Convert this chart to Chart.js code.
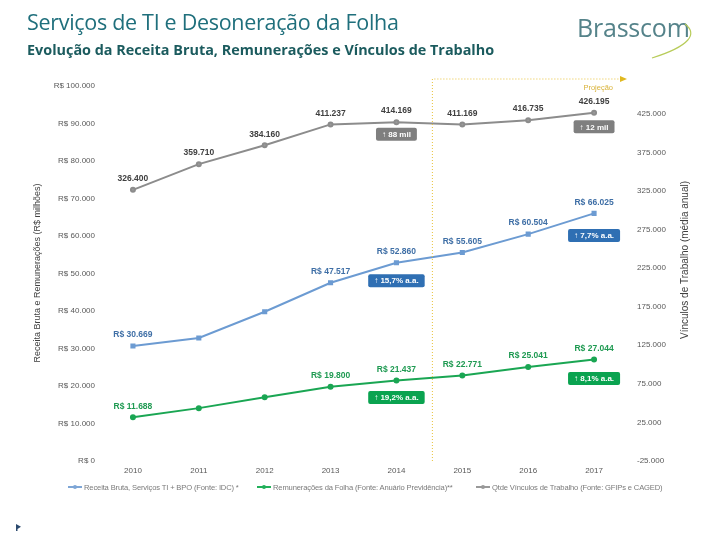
<!DOCTYPE html>
<html><head><meta charset="utf-8">
<script src="https://cdn.jsdelivr.net/npm/chart.js@4"></script>
<style>
body{margin:0;width:720px;height:540px;overflow:hidden;background:#fff;position:relative;font-family:"Open Sans",sans-serif}
#wrap{position:absolute;left:0;top:0;width:720px;height:540px}
.title{position:absolute;left:27px;top:7px;font-size:21.5px;color:#1f6f7c;letter-spacing:-0.3px;white-space:nowrap}
.sub{position:absolute;left:27px;top:40px;font-size:14.4px;font-weight:bold;color:#1b5b5e;letter-spacing:0px;white-space:nowrap}
.logo{position:absolute;left:577px;top:10px;font-size:25px;color:#55838a;letter-spacing:-0.2px;white-space:nowrap}
.leg{position:absolute;top:483px;font-family:"Liberation Sans",Arial,sans-serif;font-size:7.6px;letter-spacing:-0.15px;color:#7a7a7a;white-space:nowrap}
.mk{display:inline-block;width:14px;height:2px;vertical-align:middle;margin-right:2px;position:relative;top:-1px}
.mk i{position:absolute;left:5px;top:-1.5px;width:4px;height:4px;border-radius:2px;background:inherit}
.flag{position:absolute;left:16px;top:524px;width:5px;height:7px;background:#2c4a6e;clip-path:polygon(0 0,100% 40%,30% 70%,30% 100%,0 100%)}
</style></head>
<body>
<div id="wrap"><canvas id="c" width="720" height="540"></canvas></div>
<div class="title">Serviços de TI e Desoneração da Folha</div>
<div class="sub">Evolução da Receita Bruta, Remunerações e Vínculos de Trabalho</div>
<div class="logo">Brasscom</div>
<svg style="position:absolute;left:640px;top:22px" width="60" height="40"><path d="M45 2 C58 12 50 24 12 36" stroke="#b8cc5a" stroke-width="1.2" fill="none"/></svg>
<div class="leg" style="left:68px"><span class="mk" style="background:#7ea6d6"><i></i></span>Receita Bruta, Serviços TI + BPO (Fonte: IDC) *</div>
<div class="leg" style="left:257px"><span class="mk" style="background:#22b05a"><i></i></span>Remunerações da Folha (Fonte: Anuário Previdência)**</div>
<div class="leg" style="left:476px"><span class="mk" style="background:#999"><i></i></span>Qtde Vínculos de Trabalho (Fonte: GFIPs e CAGED)</div>
<div class="flag"></div>
<script>
const years = ["2010","2011","2012","2013","2014","2015","2016","2017"];
const receita = [30669, 32800, 39800, 47517, 52860, 55605, 60504, 66025];
const remuneracoes = [11688, 14100, 17000, 19800, 21437, 22771, 25041, 27044];
const vinculos = [326400, 359710, 384160, 411237, 414169, 411169, 416735, 426195];
const receitaLabels = ["R$ 30.669", null, null, "R$ 47.517", "R$ 52.860", "R$ 55.605", "R$ 60.504", "R$ 66.025"];
const remLabels = ["R$ 11.688", null, null, "R$ 19.800", "R$ 21.437", "R$ 22.771", "R$ 25.041", "R$ 27.044"];
const vincLabels = ["326.400", "359.710", "384.160", "411.237", "414.169", "411.169", "416.735", "426.195"];
const leftTicks = [0, 10000, 20000, 30000, 40000, 50000, 60000, 70000, 80000, 90000, 100000];
const rightTicks = [-25000, 25000, 75000, 125000, 175000, 225000, 275000, 325000, 375000, 425000];
const badgeYears = ["2014", "2017"];
const receitaBadges = ["15,7% a.a.", "7,7% a.a."];
const remBadges = ["19,2% a.a.", "8,1% a.a."];
const vincBadges = ["88 mil", "12 mil"];

const fmt = v => v.toLocaleString('de-DE');

const labelPlugin = {
  id: 'labels',
  afterDatasetsDraw(chart) {
    const ctx = chart.ctx;
    chart.data.datasets.forEach((ds, di) => {
      const meta = chart.getDatasetMeta(di);
      ctx.save();
      ctx.font = 'bold 8.5px "Liberation Sans", Arial, sans-serif';
      ctx.textAlign = 'center';
      ctx.textBaseline = 'middle';
      ctx.fillStyle = ds.labelColor;
      ds.pointLabels.forEach((t, i) => {
        if (!t) return;
        const p = meta.data[i];
        ctx.fillText(t, p.x, p.y - 11);
      });
      ds.badges.forEach((t, k) => {
        const i = years.indexOf(badgeYears[k]);
        const p = meta.data[i];
        const txt = '\u2191 ' + t;
        ctx.font = 'bold 8px "Liberation Sans", Arial, sans-serif';
        const w = Math.max(ctx.measureText(txt).width + 12, 38);
        const h = 13;
        const cy = p.y + ds.badgeDy[k];
        ctx.fillStyle = ds.badgeColor;
        ctx.beginPath();
        ctx.roundRect(p.x - w / 2, cy - h / 2, w, h, 2);
        ctx.fill();
        ctx.fillStyle = '#fff';
        ctx.fillText(txt, p.x, cy + 0.5);
      });
      ctx.restore();
    });
  }
};

const decoPlugin = {
  id: 'deco',
  afterDraw(chart) {
    const ctx = chart.ctx;
    const x = chart.scales.x;
    const a = chart.chartArea;
    const px = (x.getPixelForValue(4) + x.getPixelForValue(5)) / 2 + 3;
    const topY = a.top - 7;
    ctx.save();
    ctx.strokeStyle = '#e8c23a';
    ctx.lineWidth = 1;
    ctx.setLineDash([1, 2]);
    ctx.beginPath();
    ctx.moveTo(px, a.bottom);
    ctx.lineTo(px, topY);
    ctx.lineTo(a.right - 6, topY);
    ctx.stroke();
    ctx.setLineDash([]);
    ctx.fillStyle = '#e0b820';
    ctx.beginPath();
    ctx.moveTo(a.right, topY);
    ctx.lineTo(a.right - 7, topY - 3);
    ctx.lineTo(a.right - 7, topY + 3);
    ctx.closePath();
    ctx.fill();
    ctx.font = '7.5px "Liberation Sans", Arial, sans-serif';
    ctx.fillStyle = '#d9b33a';
    ctx.textAlign = 'right';
    ctx.textBaseline = 'middle';
    ctx.fillText('Projeção', a.right - 14, topY + 9);
    ctx.fillStyle = '#404040';
    ctx.textAlign = 'center';
    ctx.font = '9px "Liberation Sans", Arial, sans-serif';
    ctx.translate(38, 273);
    ctx.rotate(-Math.PI / 2);
    ctx.fillText('Receita Bruta e Remunerações (R$ milhões)', 0, 0);
    ctx.setTransform(1, 0, 0, 1, 0, 0);
    ctx.font = '10px "Liberation Sans", Arial, sans-serif';
    ctx.translate(685, 260);
    ctx.rotate(-Math.PI / 2);
    ctx.fillText('Vínculos de Trabalho (média anual)', 0, 0);
    ctx.restore();
  }
};

const tickFont = { family: '"Liberation Sans", Arial, sans-serif', size: 8 };

new Chart(document.getElementById('c'), {
  type: 'line',
  data: {
    labels: years,
    datasets: [
      {
        label: 'Receita Bruta, Serviços TI + BPO (Fonte: IDC) *',
        data: receita, yAxisID: 'y',
        borderColor: '#6c9bd2', backgroundColor: '#6c9bd2',
        borderWidth: 2, pointStyle: 'rect', pointRadius: 2.2,
        pointLabels: receitaLabels, labelColor: '#3f6fa6',
        badges: receitaBadges, badgeDy: [18, 22], badgeColor: '#2f6fb3'
      },
      {
        label: 'Remunerações da Folha (Fonte: Anuário Previdência)**',
        data: remuneracoes, yAxisID: 'y',
        borderColor: '#1aa653', backgroundColor: '#1aa653',
        borderWidth: 2, pointStyle: 'circle', pointRadius: 2,
        pointLabels: remLabels, labelColor: '#1f9a52',
        badges: remBadges, badgeDy: [17, 19], badgeColor: '#0aa350'
      },
      {
        label: 'Qtde Vínculos de Trabalho (Fonte: GFIPs e CAGED)',
        data: vinculos, yAxisID: 'y1',
        borderColor: '#8c8c8c', backgroundColor: '#9a9a9a',
        borderWidth: 2, pointStyle: 'circle', pointRadius: 2,
        pointLabels: vincLabels, labelColor: '#404040',
        badges: vincBadges, badgeDy: [12, 14], badgeColor: '#7f7f7f'
      }
    ]
  },
  options: {
    responsive: false,
    animation: false,
    layout: { padding: { left: 32, right: 28, top: 86, bottom: 59 } },
    plugins: { legend: { display: false }, tooltip: { enabled: false } },
    scales: {
      x: {
        offset: true,
        grid: { display: false, drawTicks: false }, border: { display: false },
        ticks: { color: '#595959', font: tickFont, padding: 5, maxRotation: 0 },
        afterFit(s) { s.height = 20; }
      },
      y: {
        position: 'left', min: 0, max: 100000,
        grid: { display: false, drawTicks: false }, border: { display: false },
        afterBuildTicks(s) { s.ticks = leftTicks.map(v => ({ value: v })); },
        ticks: { color: '#595959', font: tickFont, padding: 5, callback: v => 'R$ ' + fmt(v) },
        afterFit(s) { s.width = 68; }
      },
      y1: {
        position: 'right', min: -25000, max: 461000,
        grid: { display: false, drawTicks: false }, border: { display: false },
        afterBuildTicks(s) { s.ticks = rightTicks.map(v => ({ value: v })); },
        ticks: { color: '#595959', font: tickFont, padding: 10, callback: v => fmt(v) },
        afterFit(s) { s.width = 65; }
      }
    }
  },
  plugins: [labelPlugin, decoPlugin]
});
</script>
</body></html>
